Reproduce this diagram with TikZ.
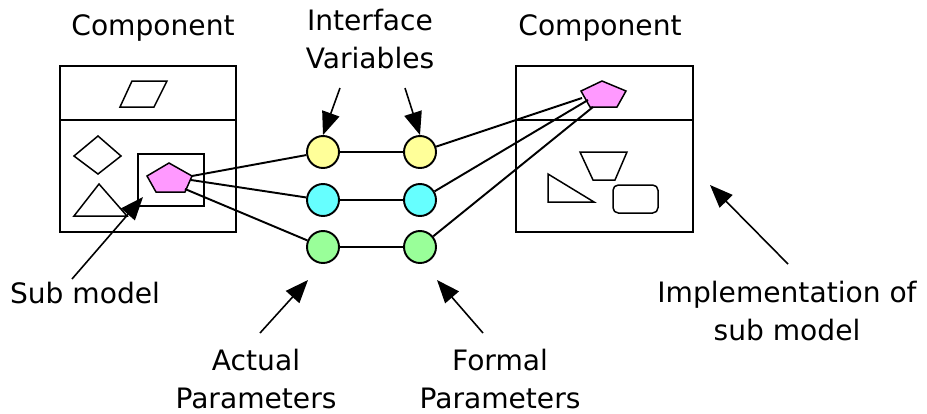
\documentclass[tikz,border=0pt]{standalone}
\usepackage{fontspec}
\setmainfont{DejaVu Sans}
\usepackage{tikz}
\usetikzlibrary{arrows.meta, positioning}
\definecolor{ivyellow}{HTML}{FFFF99}
\definecolor{ivcyan}{HTML}{66FFFF}
\definecolor{ivgreen}{HTML}{99FF99}
\definecolor{submpink}{HTML}{FF99FF}

\begin{document}
\begin{tikzpicture}[x=0.02cm,y=-0.02cm,line width=1.1pt,
  port/.style={circle,draw,minimum size=0.64cm,inner sep=0pt},
  lbl/.style={font=\fontsize{16}{21.5}\selectfont,align=center},
  pointer/.style={line width=0.9pt,-{Triangle[length=0.46cm,width=0.36cm]}},
  fig/.style={line width=0.85pt}]
  \useasboundingbox (0,0) rectangle (927,413);
  % left component
  \node[lbl] (compL) at (153,28) {Component};
  \draw (60,66) rectangle (236,232);
  \draw (60,120) -- (236,120);
  \draw[fig] (120,107) -- (132,81) -- (167,81) -- (154,107) -- cycle;
  \draw[fig] (74,156) -- (98,136) -- (121,156) -- (98,174) -- cycle;
  \draw[fig] (99,184) -- (74,216) -- (127,216) -- cycle;
  \draw (138,154) rectangle (204,206);
  \filldraw[fig,fill=submpink] (169,163) -- (192,176) -- (185,192) -- (156,192) -- (147,176) -- cycle;
  \coordinate (pl1) at (192,176);
  \coordinate (pl2) at (191,180);
  \coordinate (pl3) at (185,189);
  % right component
  \node[lbl] (compR) at (600,28) {Component};
  \draw (516,66) rectangle (693,232);
  \draw (516,120) -- (693,120);
  \filldraw[fig,fill=submpink] (602,81) -- (626,91) -- (617,107) -- (590,107) -- (581,91) -- cycle;
  \coordinate (pr1) at (582,98);
  \coordinate (pr2) at (588,100);
  \coordinate (pr3) at (593,107);
  \draw[fig] (580,152) -- (627,152) -- (615,180) -- (593,180) -- cycle;
  \draw[fig] (548,174) -- (548,202) -- (594,202) -- cycle;
  \draw[fig,rounded corners=3pt] (613,185) rectangle (658,213);
  % interface variables
  \node[port,fill=ivyellow] (yl) at (323,152) {};
  \node[port,fill=ivcyan] (cl) at (323,200) {};
  \node[port,fill=ivgreen] (gl) at (323,247) {};
  \node[port,fill=ivyellow] (yr) at (420,152) {};
  \node[port,fill=ivcyan] (cr) at (420,200) {};
  \node[port,fill=ivgreen] (gr) at (420,247) {};
  \draw (yl) -- (yr);
  \draw (cl) -- (cr);
  \draw (gl) -- (gr);
  \draw (pl1) -- (yl);
  \draw (pl2) -- (cl);
  \draw (pl3) -- (gl);
  \draw (yr) -- (pr1);
  \draw (cr) -- (pr2);
  \draw (gr) -- (pr3);
  % labels
  \node[lbl] (iv) at (370,39) {Interface\\Variables};
  \node[lbl] (sub) at (85,293) {Sub model};
  \node[lbl] (act) at (256,379) {Actual\\Parameters};
  \node[lbl] (form) at (500,379) {Formal\\Parameters};
  \node[lbl] (impl) at (787,311) {Implementation of\\sub model};
  \coordinate (subT) at (72,279);
  \coordinate (subH) at (143,197);
  \coordinate (ivT1) at (340,88);
  \coordinate (ivT2) at (405,88);
  \coordinate (actT) at (260,333);
  \coordinate (actH) at (308,280);
  \coordinate (formT) at (483,333);
  \coordinate (formH) at (437,280);
  \coordinate (implT) at (788,264);
  \coordinate (implH) at (710,185);
  \draw[pointer] (subT) -- (subH);
  \draw[pointer] (ivT1) -- (yl.north);
  \draw[pointer] (ivT2) -- (yr.north);
  \draw[pointer] (actT) -- (actH);
  \draw[pointer] (formT) -- (formH);
  \draw[pointer] (implT) -- (implH);
\end{tikzpicture}
\end{document}
